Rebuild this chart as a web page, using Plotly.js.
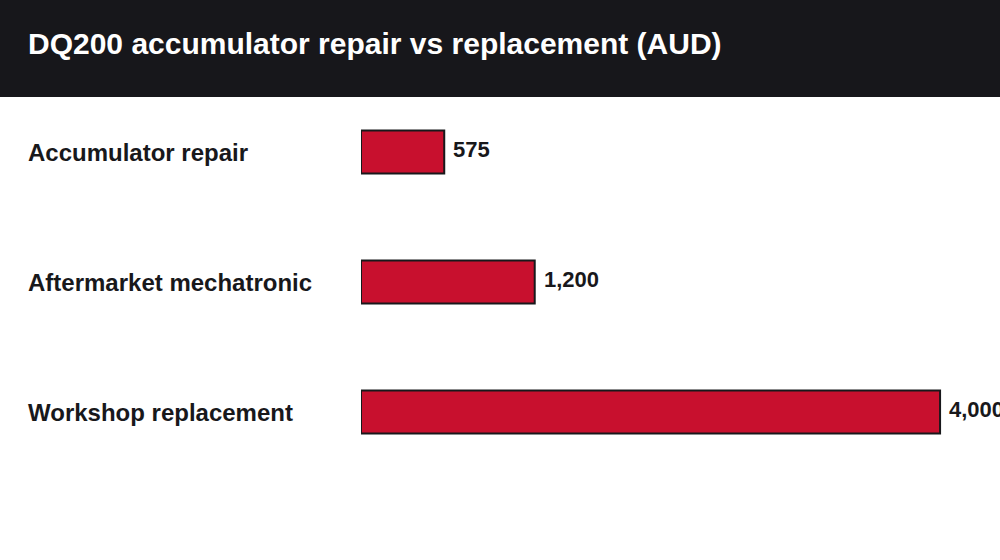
<!DOCTYPE html>
<html>
<head>
<meta charset="utf-8">
<script src="https://cdn.plot.ly/plotly-3.0.1.min.js"></script>
<style>
  html, body { margin: 0; padding: 0; background: #ffffff; }
  #chart { width: 1000px; height: 560px; }
</style>
</head>
<body>
<div id="chart"></div>
<script>
var categories = ['Accumulator repair', 'Aftermarket mechatronic', 'Workshop replacement'];
var costs = [575, 1200, 4000];
var valueLabels = ['575', '1,200', '4,000'];

var font = 'Liberation Sans, Arial, sans-serif';

var trace = {
    type: 'bar',
    orientation: 'h',
    x: costs,
    y: categories,
    marker: {
        color: '#c8102e',
        line: { color: '#18181b', width: 2 }
    },
    hoverinfo: 'skip',
    showlegend: false
};

var annotations = [];
categories.forEach(function (cat, i) {
    // category name on the left
    annotations.push({
        xref: 'paper', yref: 'y',
        x: -0.5245, y: cat,
        xanchor: 'left', yanchor: 'middle',
        text: '<b>' + cat + '</b>',
        showarrow: false,
        font: { family: font, size: 24, color: '#18181b' }
    });
    // value to the right of the bar
    annotations.push({
        xref: 'x', yref: 'y',
        x: costs[i], y: cat,
        xanchor: 'left', yanchor: 'middle',
        xshift: 7, yshift: 3,
        text: '<b>' + valueLabels[i] + '</b>',
        showarrow: false,
        font: { family: font, size: 22, color: '#18181b' }
    });
});

var layout = {
    width: 1000,
    height: 560,
    paper_bgcolor: '#ffffff',
    plot_bgcolor: '#ffffff',
    margin: { l: 361, r: 0, t: 87, b: 83 },
    title: {
        text: '<b>DQ200 accumulator repair vs replacement (AUD)</b>',
        x: 28 / 1000, xref: 'container', xanchor: 'left',
        y: 1 - 43 / 560, yref: 'container', yanchor: 'middle',
        font: { family: font, size: 30, color: '#ffffff' }
    },
    shapes: [{
        type: 'rect', xref: 'paper', yref: 'paper',
        x0: -1, x1: 1.2, y0: 1 - 10 / 390, y1: 1.5,
        fillcolor: '#17171b', line: { width: 0 }, layer: 'below'
    }],
    xaxis: {
        range: [0, 4414],
        visible: false,
        fixedrange: true
    },
    yaxis: {
        autorange: 'reversed',
        showticklabels: false,
        showgrid: false,
        zeroline: false,
        showline: false,
        ticks: '',
        fixedrange: true
    },
    bargap: 0.67,
    annotations: annotations
};

Plotly.newPlot('chart', [trace], layout, { displayModeBar: false, staticPlot: true });
</script>
</body>
</html>
